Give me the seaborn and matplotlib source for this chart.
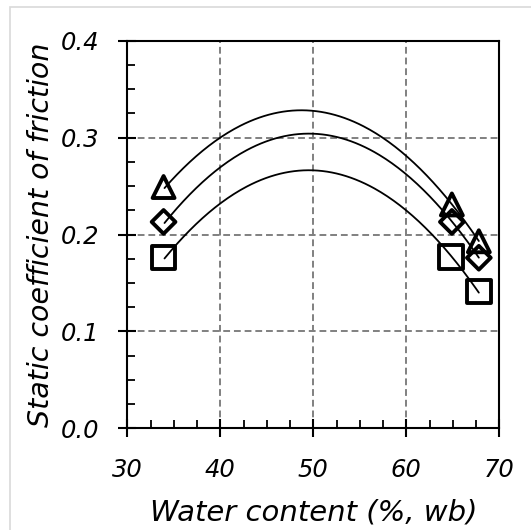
import numpy as np
import pandas as pd
import matplotlib
matplotlib.use("Agg")
import matplotlib.pyplot as plt
from matplotlib.patches import Rectangle
from matplotlib.ticker import MultipleLocator
import seaborn as sns

# ---- data ----
x_tri = [33.9, 64.9, 67.8]
y_tri = [0.249, 0.231, 0.193]
x_dia = [33.9, 64.9, 67.8]
y_dia = [0.213, 0.213, 0.176]
x_sq = [33.9, 64.8, 67.8]
y_sq = [0.176, 0.177, 0.141]

# quadratic regression coefficients (a, b, c) of the fitted curves
fit_tri = [-3.706e-4, 0.036111, -0.55146]
fit_dia = [-3.83e-4, 0.037932, -0.63509]
fit_sq = [-3.78e-4, 0.037437, -0.66063]
fit_range = [34.0, 67.8]

x_ticks = [30, 40, 50, 60, 70]
y_ticks = [0.0, 0.1, 0.2, 0.3, 0.4]
x_label = "Water content (%, wb)"
y_label = "Static coefficient of friction"

sns.set_theme(style="white")
plt.rcParams['font.family'] = ['DejaVu Sans']
plt.rcParams['font.style'] = 'italic'

fig = plt.figure(figsize=(5.31, 5.30), dpi=100)
ax = fig.add_axes([127.3 / 531, 1 - 428.3 / 530, (499.3 - 127.3) / 531, (428.3 - 40.7) / 530])

# light gray frame of the figure
fig.add_artist(Rectangle((10 / 531, -0.2), 1.2, 1.2 - 7 / 530, transform=fig.transFigure,
                         fill=False, edgecolor="#d9d9d9", linewidth=1.2, zorder=0))

ax.grid(True, which="major", color="#808080", linestyle=(0, (3.5, 2)), linewidth=1.4)
ax.set_axisbelow(True)

series = [
    (x_tri, y_tri, fit_tri, "^", 250),
    (x_dia, y_dia, fit_dia, "D", 146),
    (x_sq, y_sq, fit_sq, "s", 285),
]
xf = np.linspace(fit_range[0], fit_range[1], 200)
for xs, ys, coef, mk, size in series:
    sns.scatterplot(x=xs, y=ys, marker=mk, s=size, facecolors="none", edgecolors="black",
                    linewidth=2.8, ax=ax, zorder=3, legend=False)
for xs, ys, coef, mk, size in series:
    df = pd.DataFrame({"x": xf, "y": np.polyval(coef, xf)})
    sns.lineplot(data=df, x="x", y="y", color="black", linewidth=1.3, ax=ax, zorder=4,
                 estimator=None, sort=False)

ax.set_xlim(30, 70)
ax.set_ylim(0, 0.4)
ax.set_xticks(x_ticks)
ax.set_yticks(y_ticks)
ax.set_xticklabels([str(t) for t in x_ticks])
ax.set_yticklabels([f"{t:.1f}" for t in y_ticks])
ax.xaxis.set_minor_locator(MultipleLocator(2.5))
ax.yaxis.set_minor_locator(MultipleLocator(0.025))

for s in ax.spines.values():
    s.set_color("black")
    s.set_linewidth(1.5)

ax.tick_params(which="major", direction="inout", length=13, width=1.5, color="black",
               labelsize=17.5, labelcolor="black")
ax.tick_params(axis="x", which="major", pad=15)
ax.tick_params(axis="y", which="major", pad=14)
ax.tick_params(which="minor", direction="in", length=6, width=1.3, color="black")
ax.tick_params(left=True, bottom=True, which="both")
for lab in ax.get_xticklabels() + ax.get_yticklabels():
    lab.set_fontstyle("italic")

ax.set_xlabel(x_label, fontsize=21, fontstyle="italic", color="black", labelpad=12)
ax.set_ylabel(y_label, fontsize=20.5, fontstyle="italic", color="black", labelpad=4)

fig.savefig("out.png", dpi=100)
